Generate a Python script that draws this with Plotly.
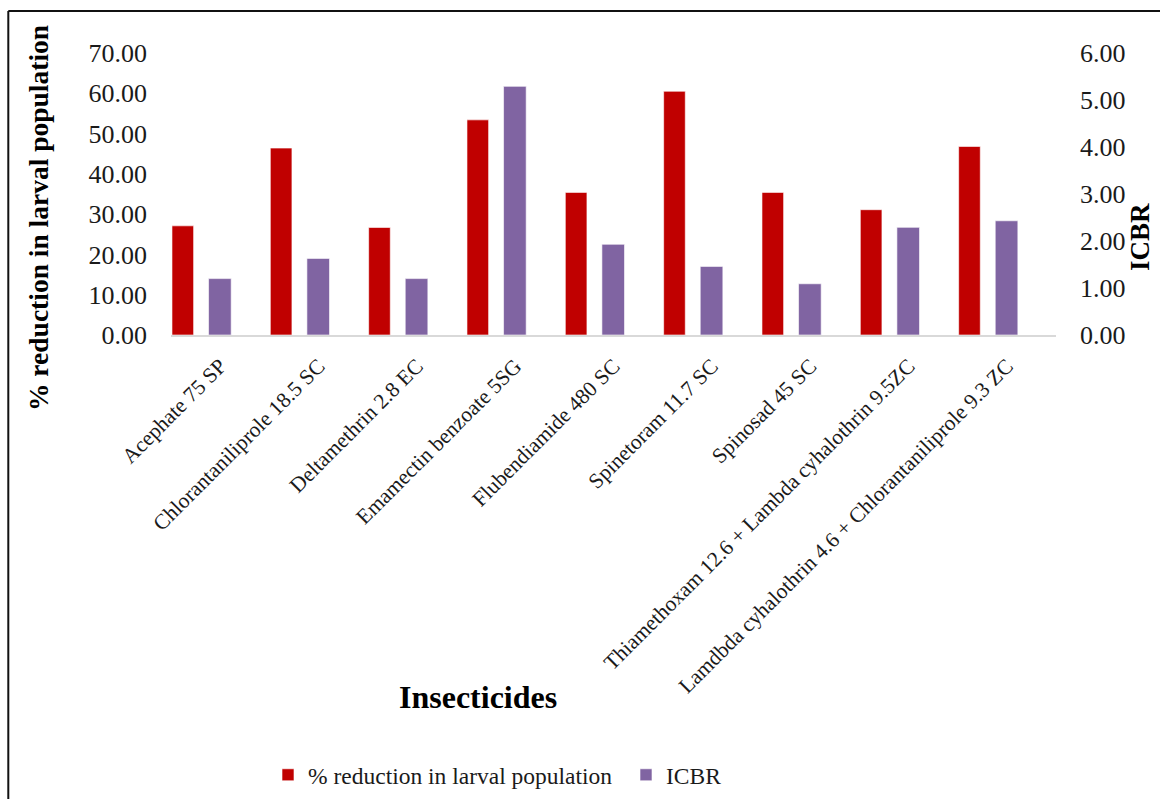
import plotly.graph_objects as go

# Insecticide treatments (x categories)
insecticides = [
    "Acephate 75 SP",
    "Chlorantaniliprole 18.5 SC",
    "Deltamethrin 2.8 EC",
    "Emamectin benzoate 5SG",
    "Flubendiamide 480 SC",
    "Spinetoram 11.7 SC",
    "Spinosad 45 SC",
    "Thiamethoxam 12.6 + Lambda cyhalothrin 9.5ZC",
    "Lamdbda cyhalothrin 4.6 + Chlorantaniliprole 9.3 ZC",
]

# % reduction in larval population (primary axis)
larval_reduction = [27.1, 46.4, 26.7, 53.4, 35.4, 60.5, 35.4, 31.1, 46.8]

# Incremental cost-benefit ratio (secondary axis)
icbr = [1.20, 1.63, 1.20, 5.29, 1.93, 1.46, 1.09, 2.29, 2.43]

W, H = 1160, 799
ML, MR, MT, MB = 171, 104, 53, 464
PW, PH = W - ML - MR, H - MT - MB

FONT = "Liberation Serif"
INK = "#1a1a1a"


def px_x(x):
    return (x - ML) / PW


def px_y(y):
    return (H - MB - y) / PH


fig = go.Figure()
fig.add_trace(go.Bar(
    x=insecticides, y=larval_reduction, name="% reduction in larval population",
    marker=dict(color="#C00000", line=dict(color="rgba(255,255,255,0.6)", width=1)),
    offset=-0.49, width=0.22, yaxis="y",
))
fig.add_trace(go.Bar(
    x=insecticides, y=icbr, name="ICBR",
    marker=dict(color="#8064A2", line=dict(color="rgba(255,255,255,0.6)", width=1)),
    offset=-0.118, width=0.23, yaxis="y2",
))

fig.update_layout(
    width=W, height=H,
    margin=dict(l=ML, r=MR, t=MT, b=MB, autoexpand=False),
    paper_bgcolor="white", plot_bgcolor="white",
    barmode="overlay",
    font=dict(family=FONT, color=INK),
    xaxis=dict(
        type="category", range=[-0.5, 8.5], automargin=False,
        showline=True, linecolor="#d9d9d9", linewidth=2,
        showgrid=False, ticks="", tickangle=-45,
        tickfont=dict(size=21.5, family=FONT, color=INK),
        ticklabelstandoff=8,
    ),
    yaxis=dict(
        range=[0, 70], dtick=10, tickformat=".2f", automargin=False,
        showgrid=False, zeroline=False, showline=False, ticks="",
        tickfont=dict(size=26, family=FONT, color=INK),
        ticklabelstandoff=23,
    ),
    yaxis2=dict(
        range=[0, 6], dtick=1, tickformat=".2f", overlaying="y", side="right",
        automargin=False,
        showgrid=False, zeroline=False, showline=False, ticks="",
        tickfont=dict(size=26, family=FONT, color=INK),
        ticklabelstandoff=23,
    ),
    legend=dict(
        orientation="h", xref="container", yref="container",
        x=268 / W, y=1 - 775 / H, xanchor="left", yanchor="middle",
        entrywidth=313, entrywidthmode="pixels",
        font=dict(size=23.5, family=FONT, color=INK),
        bgcolor="rgba(0,0,0,0)",
    ),
    annotations=[
        dict(text="<b>% reduction in larval population</b>", textangle=-90,
             x=px_x(38), y=px_y(218), xref="paper", yref="paper",
             xanchor="center", yanchor="middle",
             showarrow=False, font=dict(size=27.5, family=FONT, color="black")),
        dict(text="<b>ICBR</b>", textangle=-90,
             x=px_x(1140), y=px_y(237), xref="paper", yref="paper",
             xanchor="center", yanchor="middle",
             showarrow=False, font=dict(size=27, family=FONT, color="black")),
        dict(text="<b>Insecticides</b>",
             x=px_x(477.5), y=px_y(697), xref="paper", yref="paper",
             xanchor="center", yanchor="middle",
             showarrow=False, font=dict(size=32, family=FONT, color="black")),
    ],
    shapes=[
        dict(type="line", xref="paper", yref="paper",
             x0=px_x(8.3), x1=px_x(1175), y0=px_y(11), y1=px_y(11),
             line=dict(color="#111", width=2)),
        dict(type="line", xref="paper", yref="paper",
             x0=px_x(8.3), x1=px_x(8.3), y0=px_y(11), y1=px_y(815),
             line=dict(color="#111", width=2)),
    ],
)

fig.write_html("out.html")
